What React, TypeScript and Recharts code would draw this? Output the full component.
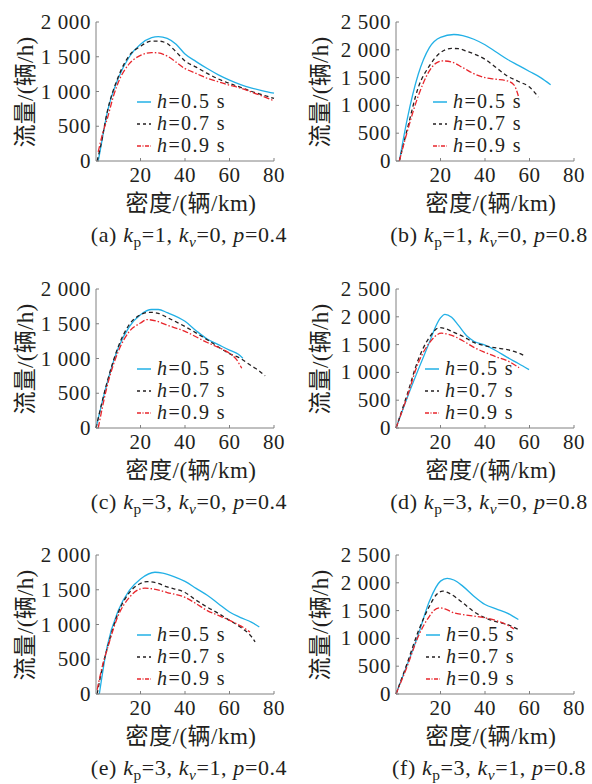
import React from "react"
import { LineChart, Line, XAxis, YAxis } from "recharts"

type Pt = [number, number]

// headway values shown in the legend, one per series
const headways = ["0.5", "0.7", "0.9"]

// (a) kp=1, kv=0, p=0.4
const a05: Pt[] = [[1, 0], [2, 170], [5, 690], [10, 1190], [15, 1500], [20, 1680], [25, 1775], [28, 1790], [32, 1765], [36, 1680], [40, 1540], [45, 1430], [50, 1330], [55, 1240], [60, 1165], [65, 1100], [70, 1050], [75, 1010], [80, 975]]
const a07: Pt[] = [[0.5, 0], [2, 200], [5, 700], [10, 1210], [15, 1520], [20, 1650], [25, 1725], [28, 1725], [32, 1690], [36, 1570], [40, 1440], [45, 1350], [50, 1260], [55, 1180], [60, 1115], [65, 1060], [70, 1000], [75, 950], [80, 900]]
const a09: Pt[] = [[1, 130], [3, 400], [5, 600], [8, 950], [10, 1130], [15, 1400], [20, 1520], [25, 1560], [28, 1555], [32, 1510], [40, 1330], [45, 1260], [50, 1190], [55, 1140], [60, 1090], [65, 1050], [70, 990], [75, 930], [80, 865]]

// (b) kp=1, kv=0, p=0.8
const b05: Pt[] = [[1.5, 0], [5, 745], [10, 1560], [15, 2040], [20, 2225], [26, 2275], [30, 2255], [35, 2190], [40, 2090], [45, 1960], [50, 1830], [55, 1720], [60, 1610], [65, 1500], [69.5, 1370]]
const b07: Pt[] = [[1.5, 0], [5, 560], [10, 1320], [15, 1710], [20, 1950], [25, 2025], [28, 2020], [32, 1970], [40, 1830], [45, 1680], [50, 1530], [55, 1430], [60, 1330], [64, 1150]]
const b09: Pt[] = [[1.5, 0], [5, 520], [10, 1170], [15, 1620], [18, 1760], [21, 1800], [25, 1780], [30, 1680], [35, 1570], [40, 1500], [45, 1470], [50, 1440], [53, 1370], [55, 1170]]

// (c) kp=3, kv=0, p=0.4
const c05: Pt[] = [[0, 0], [5, 650], [10, 1150], [15, 1460], [20, 1630], [25, 1705], [28, 1705], [32, 1660], [40, 1535], [45, 1400], [50, 1280], [55, 1200], [60, 1120], [64, 1060], [66, 1005]]
const c07: Pt[] = [[0, 0], [5, 660], [10, 1170], [15, 1490], [20, 1630], [24, 1665], [28, 1650], [32, 1590], [40, 1460], [50, 1270], [60, 1070], [65, 1000], [70, 890], [73, 830], [76, 750]]
const c09: Pt[] = [[1, 0], [5, 600], [10, 1100], [15, 1390], [20, 1510], [23, 1560], [27, 1540], [32, 1480], [40, 1390], [50, 1230], [55, 1160], [60, 1075], [63, 990], [65.5, 860]]

// (d) kp=3, kv=0, p=0.8
const d05: Pt[] = [[0, 0], [5, 540], [10, 1050], [15, 1540], [18, 1840], [20, 1980], [22, 2045], [25, 1990], [28, 1850], [32, 1650], [35, 1560], [40, 1490], [45, 1390], [50, 1270], [55, 1160], [59.8, 1050]]
const d07: Pt[] = [[0, 0], [5, 600], [10, 1230], [15, 1630], [19.6, 1805], [22, 1790], [26, 1720], [30, 1650], [35, 1540], [40, 1480], [45, 1440], [50, 1410], [55, 1350], [58.3, 1290]]
const d09: Pt[] = [[0, 0], [5, 560], [10, 1170], [15, 1530], [20.4, 1705], [24, 1680], [30, 1570], [35, 1450], [40, 1360], [45, 1280], [50, 1210], [55.3, 1085]]

// (e) kp=3, kv=1, p=0.4
const e05: Pt[] = [[1.5, 0], [5, 680], [10, 1200], [15, 1490], [20, 1655], [26.5, 1752], [30, 1740], [35, 1690], [40, 1620], [45, 1520], [50, 1420], [55, 1300], [60, 1180], [65, 1100], [70, 1030], [73.4, 965]]
const e07: Pt[] = [[0.5, 0], [3, 400], [5, 650], [10, 1170], [15, 1460], [20, 1590], [23, 1618], [27, 1600], [32, 1540], [40, 1460], [45, 1350], [50, 1250], [55, 1160], [60, 1060], [65, 960], [70, 820], [71.5, 750]]
const e09: Pt[] = [[0.5, 60], [3, 420], [5, 640], [10, 1130], [15, 1390], [19, 1500], [22, 1523], [26, 1510], [32, 1460], [40, 1390], [45, 1300], [50, 1200], [55, 1130], [60, 1060], [65, 980], [69.2, 893]]

// (f) kp=3, kv=1, p=0.8
const f05: Pt[] = [[0, 0], [5, 524], [10, 1066], [15, 1670], [20, 2030], [23, 2078], [26, 2050], [30, 1940], [35, 1760], [40, 1610], [45, 1530], [50, 1455], [55, 1340]]
const f07: Pt[] = [[0, 0], [5, 550], [10, 1127], [15, 1578], [18, 1780], [21, 1850], [24, 1810], [30, 1640], [35, 1480], [40, 1370], [45, 1300], [50, 1250], [55, 1160]]
const f09: Pt[] = [[0, 0], [5, 494], [10, 1036], [15, 1398], [17, 1500], [19.5, 1550], [22, 1530], [26, 1460], [30, 1430], [35, 1400], [40, 1370], [45, 1320], [50, 1240], [53, 1170]]

const xTicks = [20, 40, 60, 80]
const yTicks2000 = [0, 500, 1000, 1500, 2000]
const yTicks2500 = [0, 500, 1000, 1500, 2000, 2500]

const panels = [
  { tag: "a", kp: 1, kv: 0, p: 0.4, yTicks: yTicks2000, series: [a05, a07, a09] },
  { tag: "b", kp: 1, kv: 0, p: 0.8, yTicks: yTicks2500, series: [b05, b07, b09] },
  { tag: "c", kp: 3, kv: 0, p: 0.4, yTicks: yTicks2000, series: [c05, c07, c09] },
  { tag: "d", kp: 3, kv: 0, p: 0.8, yTicks: yTicks2500, series: [d05, d07, d09] },
  { tag: "e", kp: 3, kv: 1, p: 0.4, yTicks: yTicks2000, series: [e05, e07, e09] },
  { tag: "f", kp: 3, kv: 1, p: 0.8, yTicks: yTicks2500, series: [f05, f07, f09] },
]

// layout
const colLeft = [0, 300]
const plotTop = [22, 289, 555]
const legendShift = [41, 37, 41, 29, 41, 30]
const yLabelX = [25, 320]
const CHART_W = 296
const CHART_H = 210
const PLOT_W = 178
const PLOT_H = 139
const Y_AXIS_W = 96
const MARGIN_TOP = 20
const ROW_GAP = 22

const ink = "#231f20"
const axisGray = "#808080"
const serif = "'Liberation Serif', 'Noto Sans CJK SC', serif"
const colors = ["#22b0e6", "#231f20", "#e8262c"]
const dashes = [undefined, "4 3", "6 2 1.5 2"]
const keyDashes = [undefined, "3 3", "4 1.5 1 1.5"]

const fmtFlow = (v: number) =>
  v >= 1000 ? `${Math.floor(v / 1000)} ${String(v % 1000).padStart(3, "0")}` : String(v)

const tickText = { fontFamily: serif, letterSpacing: 0.6 }

const XTick = ({ x, y, payload }: any) => (
  <g>
    <line x1={x} x2={x} y1={y} y2={y - 3} stroke={axisGray} />
    <text x={x} y={y + 21} textAnchor="middle" fontSize={21} fill={ink} style={tickText}>
      {payload.value}
    </text>
  </g>
)

const YTick = ({ x, y, payload }: any) => (
  <g>
    <line x1={x} x2={x + 3} y1={y} y2={y} stroke={axisGray} />
    <text x={x - 5} y={y + 7} textAnchor="end" fontSize={21} fill={ink} style={tickText}>
      {fmtFlow(payload.value)}
    </text>
  </g>
)

const Legend = ({ left, top }: { left: number; top: number }) => (
  <div style={{ position: "absolute", left, top }}>
    {headways.map((h, i) => (
      <div
        key={h}
        style={{ position: "absolute", top: i * ROW_GAP - 11, left: 0, height: 21, display: "flex", alignItems: "center", whiteSpace: "nowrap" }}
      >
        <svg width={14} height={4} style={{ display: "block" }}>
          <line x1={0} x2={14} y1={2} y2={2} stroke={colors[i]} strokeWidth={1.5} strokeDasharray={keyDashes[i]} />
        </svg>
        <span style={{ marginLeft: 6, fontSize: 20, letterSpacing: 1.4, lineHeight: "21px", color: ink }}>
          <i>h</i>={h} s
        </span>
      </div>
    ))}
  </div>
)

const Panel = ({ idx }: { idx: number }) => {
  const pnl = panels[idx]
  const col = idx % 2
  const row = Math.floor(idx / 2)
  const left = colLeft[col]
  const top = plotTop[row] - MARGIN_TOP
  const pLeft = left + Y_AXIS_W
  const pTop = plotTop[row]
  const pBottom = pTop + PLOT_H
  const cx = pLeft + PLOT_W / 2
  const yMax = pnl.yTicks[pnl.yTicks.length - 1]
  return (
    <>
      <div style={{ position: "absolute", left, top }}>
        <LineChart
          width={CHART_W}
          height={CHART_H}
          margin={{ top: MARGIN_TOP, right: CHART_W - Y_AXIS_W - PLOT_W, bottom: 0, left: 0 }}
        >
          <XAxis
            type="number"
            dataKey="x"
            domain={[0, 80]}
            ticks={xTicks}
            tick={<XTick />}
            tickLine={false}
            tickSize={0}
            tickMargin={0}
            height={CHART_H - MARGIN_TOP - PLOT_H}
            stroke={axisGray}
          />
          <YAxis
            type="number"
            dataKey="y"
            domain={[0, yMax]}
            ticks={pnl.yTicks}
            tick={<YTick />}
            tickLine={false}
            tickSize={0}
            tickMargin={0}
            width={Y_AXIS_W}
            stroke={axisGray}
          />
          {pnl.series.map((pts, i) => (
            <Line
              key={headways[i]}
              name={headways[i]}
              data={pts.map(([x, y]) => ({ x, y }))}
              dataKey="y"
              type="monotone"
              stroke={colors[i]}
              strokeWidth={1.3}
              strokeDasharray={dashes[i]}
              dot={false}
              activeDot={false}
              isAnimationActive={false}
            />
          ))}
        </LineChart>
      </div>
      <Legend left={pLeft + legendShift[idx]} top={pTop + 80} />
      <div
        style={{
          position: "absolute",
          left: yLabelX[col],
          top: pTop + PLOT_H / 2,
          transform: "translate(-50%, -50%) rotate(-90deg)",
          fontSize: 23,
          letterSpacing: 0.3,
          whiteSpace: "nowrap",
          color: ink,
          lineHeight: 1,
        }}
      >
        流量/(辆/h)
      </div>
      <div
        style={{
          position: "absolute",
          left: cx + 6,
          top: pBottom + 42,
          transform: "translate(-50%, -50%)",
          fontSize: 23,
          letterSpacing: 0.5,
          whiteSpace: "nowrap",
          color: ink,
          lineHeight: 1,
        }}
      >
        密度/(辆/km)
      </div>
      <div
        style={{
          position: "absolute",
          left: cx + 4,
          top: pBottom + 76,
          transform: "translate(-50%, -50%)",
          fontSize: 22,
          letterSpacing: 0.6,
          whiteSpace: "nowrap",
          color: ink,
          lineHeight: 1,
        }}
      >
        ({pnl.tag}) <i>k</i>
        <sub style={{ fontSize: "0.7em", verticalAlign: "-0.35em" }}>p</sub>={pnl.kp}, <i>k</i>
        <sub style={{ fontSize: "0.7em", verticalAlign: "-0.35em" }}>
          <i>v</i>
        </sub>
        ={pnl.kv}, <i>p</i>={pnl.p}
      </div>
    </>
  )
}

export default function App() {
  return (
    <div
      style={{
        position: "absolute",
        left: 0,
        top: 0,
        width: 592,
        height: 784,
        background: "#fff",
        fontFamily: serif,
        color: ink,
      }}
    >
      {panels.map((_, i) => (
        <Panel key={i} idx={i} />
      ))}
    </div>
  )
}
